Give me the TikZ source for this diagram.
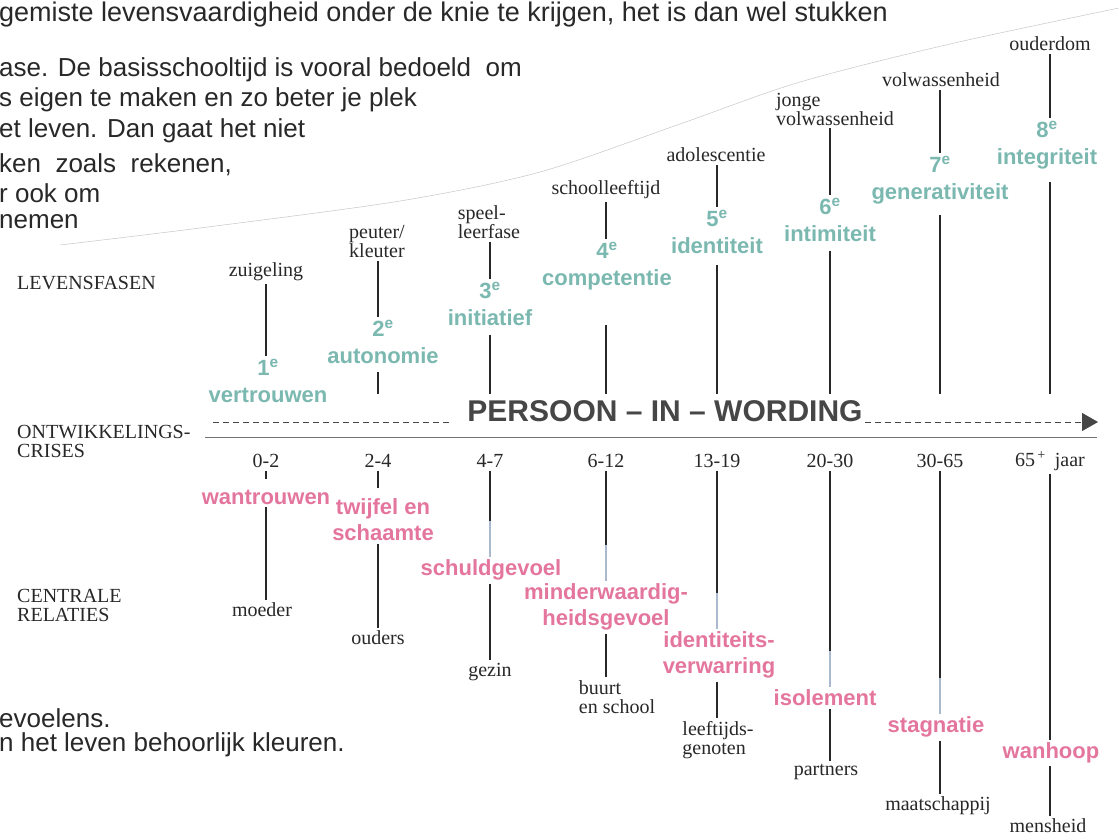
\documentclass[tikz,border=0pt]{standalone}
\usepackage{fontspec}
\setmainfont{Liberation Serif}
\newfontfamily\arial{Liberation Sans}
\usepackage{tikz}
\usetikzlibrary{arrows.meta,positioning,calc}
\definecolor{inkblack}{RGB}{40,40,40}
\definecolor{darkink}{RGB}{70,70,70}
\definecolor{tealgreen}{RGB}{122,184,176}
\definecolor{rosepink}{RGB}{228,118,158}
\definecolor{steelblue}{RGB}{170,185,205}
\tikzset{
  page/.style={font=\arial\fontsize{26}{30}\selectfont, anchor=west, inner sep=0pt, text=inkblack},
  phase/.style={font=\fontsize{20}{19}\selectfont, align=left, inner sep=3pt, text=inkblack},
  side/.style={phase, anchor=west, inner sep=0pt},
  virtue/.style={font=\arial\bfseries\fontsize{22}{27}\selectfont, align=center, inner sep=3pt, text=tealgreen},
  crisis/.style={virtue, text=rosepink, font=\arial\bfseries\fontsize{22}{26}\selectfont},
  title/.style={font=\arial\bfseries\fontsize{30}{30}\selectfont, text=darkink, inner sep=2pt},
  rule/.style={line width=1.2pt, draw=inkblack},
  tint/.style={line width=1.2pt, draw=steelblue},
  dashline/.style={dash pattern=on 6pt off 4pt, line width=0.9pt, draw=darkink},
  thinrule/.style={line width=0.6pt, draw=inkblack!65},
  pagecurve/.style={line width=0.5pt, draw=black!22},
}
\begin{document}
\begin{tikzpicture}[x=1pt,y=-1pt]
  \useasboundingbox (0,0) rectangle (1119,838);
  \clip (0,0) rectangle (1119,838);
  \fill[white] (0,0) rectangle (1119,838);
  \draw[pagecurve] plot[smooth] coordinates {(60,245) (200,228) (400,201) (540,172) (680,124) (800,82) (950,44) (1119,8)};
  \node[page,font=\arial\fontsize{27}{30}\selectfont] (tx0) at (-1,15) {gemiste levensvaardigheid onder de knie te krijgen, het is dan wel stukken};
  \foreach \y/\t in {70/{ase. De basisschooltijd is vooral bedoeld\ \ om},100/{s eigen te maken en zo beter je plek},
      131/{et leven. Dan gaat het niet},165/{ken\ \ zoals\ \ rekenen,},193/{r ook om},222/{nemen},
      718/{evoelens.},745/{n het leven behoorlijk kleuren.}}{
    \node[page] (tx\y) at (-1,\y) {\t};
  }
  \node[side] (lf) at (17,283) {LEVENSFASEN};
  \node[side] (oc) at (17,441) {ONTWIKKELINGS-\\CRISES};
  \node[side] (cl) at (17,605) {CENTRALE\\RELATIES};
  \foreach \i/\x in {1/266,2/378,3/490,4/606,5/717,6/830,7/940,8/1050}{
    \coordinate (c\i) at (\x,0);
  }
  \coordinate (base) at (0,394);
  \coordinate (ages) at (0,461);
  \foreach \i/\x/\y/\t in {1/266/272/{zuigeling},2/377/242/{peuter/\\kleuter},3/489/222/{speel-\\leerfase},
      4/606/190/{schoolleeftijd},5/716/155/{adolescentie},6/835/109/{jonge\\volwassenheid},
      7/941/80/{volwassenheid},8/1050/44/{ouderdom}}{
    \node[phase] (ph\i) at (\x,\y) {\t};
  }
  \foreach \i/\x/\y/\t in {1/268/381/vertrouwen,2/383/342/autonomie,3/490/304/initiatief,4/607/266/competentie,
      5/717/232/identiteit,6/830/220/intimiteit,7/940/180/generativiteit,8/1047/145/integriteit}{
    \node[virtue] (cr\i) at (\x,\y) {\i\textsuperscript{e}\\\t};
  }
  \foreach \i in {1,...,8}{
    \draw[rule] (c\i |- ph\i.south) -- (c\i |- cr\i.north);
  }
  \foreach \i/\s in {2/5,3/6,4/32,5/8,6/6,7/8,8/10}{
    \draw[rule,shorten <=\s pt] (c\i |- cr\i.south) -- (c\i |- base);
  }
  \node[title,anchor=base] (pw) at (665,421) {PERSOON – IN – WORDING};
  \coordinate (axl) at (213,422);
  \coordinate (axr) at (1098,422);
  \coordinate (bl) at (205,437);
  \coordinate (br) at (1097,437);
  \draw[dashline,shorten >=14pt] (axl) -- (axl -| pw.west);
  \draw[dashline,-{Triangle[length=16pt,width=18pt]}] (axl -| pw.east) -- (axr);
  \draw[thinrule] (bl) -- (br);
  \foreach \i/\t in {1/0-2,2/2-4,3/4-7,4/6-12,5/13-19,6/20-30,7/30-65,8/{65\textsuperscript{\,+}\hspace{9pt}jaar}}{
    \node[phase] (a\i) at (c\i |- ages) {\t};
  }
  \foreach \i/\x/\y/\t in {1/266/497/{wantrouwen},2/383/520/{twijfel en\\schaamte},3/491/570/{schuldgevoel},
      4/606/607/{minderwaardig-\\heidsgevoel},5/719/655/{identiteits-\\verwarring},6/825/698/{isolement},
      7/936/727/{stagnatie},8/1051/753/{wanhoop}}{
    \node[crisis] (n\i) at (\x,\y) {\t};
  }
  \foreach \i/\x/\y/\t in {1/262/610/{moeder},2/378/638/{ouders},3/490/672/{gezin},4/617/697/{buurt\\en school},
      5/718/740/{leeftijds-\\genoten},6/826/772/{partners},7/938/806/{maatschappij},8/1048/826/{mensheid}}{
    \node[phase] (r\i) at (\x,\y) {\t};
  }
  \foreach \i/\s in {1/8,2/8,3/0,4/0,5/0,6/0,7/0,8/0}{
    \draw[rule,shorten >=\s pt] (c\i |- a\i.south) -- (c\i |- n\i.north);
    \draw[rule] (c\i |- n\i.south) -- (c\i |- r\i.north);
  }
  \foreach \i in {3,...,7}{
    \draw[tint] ([yshift=36pt]c\i |- n\i.north) -- (c\i |- n\i.north);
  }
\end{tikzpicture}
\end{document}
